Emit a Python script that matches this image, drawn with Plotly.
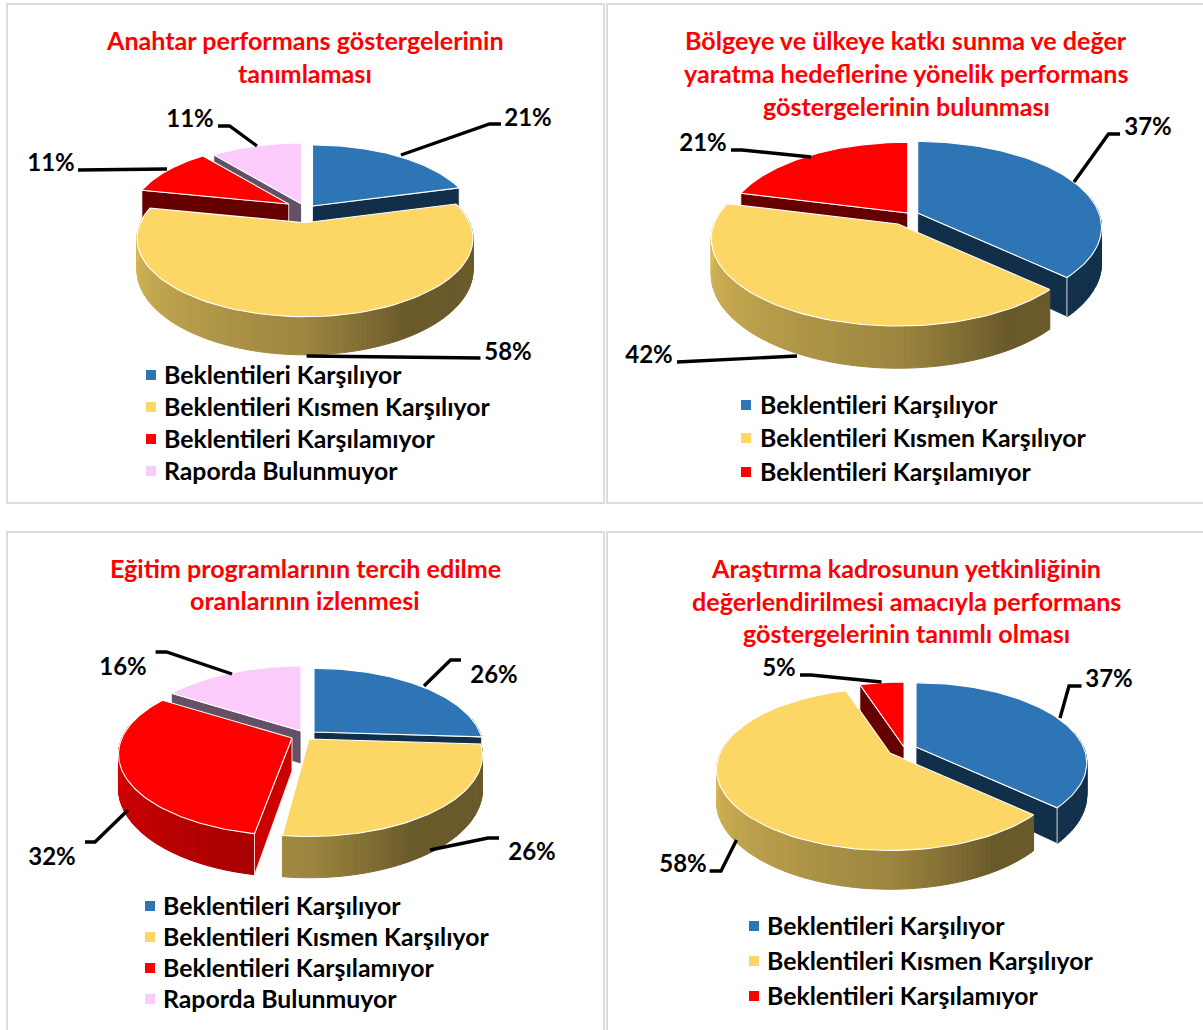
import math
import numpy as np
import plotly.graph_objects as go

# ---------- data ----------
cat_meets = "Beklentileri Karşılıyor"
cat_partly = "Beklentileri Kısmen Karşılıyor"
cat_fails = "Beklentileri Karşılamıyor"
cat_absent = "Raporda Bulunmuyor"

chart1_title = ["Anahtar performans göstergelerinin", "tanımlaması"]
chart1_cats = [cat_meets, cat_partly, cat_fails, cat_absent]
chart1_vals = [21, 58, 11, 11]

chart2_title = ["Bölgeye ve ülkeye katkı sunma ve değer",
                "yaratma hedeflerine yönelik performans",
                "göstergelerinin bulunması"]
chart2_cats = [cat_meets, cat_partly, cat_fails]
chart2_vals = [37, 42, 21]

chart3_title = ["Eğitim programlarının tercih edilme", "oranlarının izlenmesi"]
chart3_cats = [cat_meets, cat_partly, cat_fails, cat_absent]
chart3_vals = [26, 26, 32, 16]

chart4_title = ["Araştırma kadrosunun yetkinliğinin",
                "değerlendirilmesi amacıyla performans",
                "göstergelerinin tanımlı olması"]
chart4_cats = [cat_meets, cat_partly, cat_fails]
chart4_vals = [37, 58, 5]

# ---------- style / layout ----------
COLORS = {cat_meets: (46, 117, 182), cat_partly: (252, 215, 102),
          cat_fails: (255, 0, 0), cat_absent: (251, 203, 252)}
FONT = "Lato"
TITLE_SIZE = 25.1
LEGEND_SIZE = 24.8
LABEL_SIZE = 24
TITLE_RED = "#ff0000"
BORDER = "#dcdcdc"

PANELS = [(7, 4, 604, 503), (607, 4, 1206, 503), (7, 532, 604, 1034), (607, 532, 1206, 1034)]

CONFIG = [
    dict(title=chart1_title, cats=chart1_cats, vals=chart1_vals, tx=305, ty=[40, 73],
         R=164.6, H=75.2, k=0.2, D=30.5,
         apex=[(312.5, 206), (305, 222.7), (288.7, 204), (301.5, 204)],
         scale=[0.97, 1, 0.945, 0.97], start_shift=[0, 0, 0, 0],
         order=[3, 0, 2, 1],
         legend=dict(mx=151, tx=162, ys=[374, 406, 438, 470]),
         labels=[(528, 119.5), (508, 353.5), (51, 164.5), (190, 120.5)],
         leaders=[[(401, 155), (489.5, 124), (501, 124)],
                  [(306.6, 356), (480.5, 358)],
                  [(167, 169), (78, 170)],
                  [(257, 146), (229.6, 126), (218, 126)]]),
    dict(title=chart2_title, cats=chart2_cats, vals=chart2_vals, tx=906, ty=[40, 73, 106],
         R=184, H=84.7, k=0.17, D=35,
         apex=[(917.7, 213), (898, 224), (907.7, 213)],
         scale=[0.985, 1, 0.975], start_shift=[0, 0, 0],
         order=[2, 0, 1],
         legend=dict(mx=746, tx=758, ys=[404, 437, 471]),
         labels=[(1148, 128.5), (649, 356.5), (703, 144.5)],
         leaders=[[(1074, 182), (1108.5, 134), (1120, 134)],
                  [(797, 356), (677, 362)],
                  [(811, 157), (742, 150), (731, 150)]]),
    dict(title=chart3_title, cats=chart3_cats, vals=chart3_vals, tx=305, ty=[568, 600],
         R=170, H=78, k=0.2, D=33,
         apex=[(314, 732), (309, 739), (292, 738), (301, 731)],
         scale=[0.975, 1, 1, 1], start_shift=[0, 0, 3, 0],
         order=[3, 0, 2, 1],
         legend=dict(mx=150, tx=161, ys=[905, 936, 967, 998]),
         labels=[(494, 676.5), (532, 853.5), (52, 858.5), (123, 668.5)],
         leaders=[[(424, 686), (450.6, 660), (461, 660)],
                  [(430, 850), (488, 838), (499, 838)],
                  [(128, 810), (95, 842), (85, 842)],
                  [(232, 674), (166.5, 652), (155.6, 652)]]),
    dict(title=chart4_title, cats=chart4_cats, vals=chart4_vals, tx=906, ty=[568, 601, 633],
         R=170, H=78, k=0.2, D=31,
         apex=[(916, 747), (890, 753), (904, 747)],
         scale=[0.985, 1, 1], start_shift=[0, 0, 0],
         order=[2, 0, 1],
         legend=dict(mx=754, tx=765, ys=[925, 960, 995]),
         labels=[(1109, 680.5), (683, 865.5), (779, 669.5)],
         leaders=[[(1060, 718), (1069, 686), (1081.5, 686)],
                  [(736.5, 840), (721, 871), (709.6, 871)],
                  [(881.5, 682), (811, 675), (800, 675)]]),
]


def rgb(c, f=1.0):
    return "rgb(%d,%d,%d)" % tuple(round(x * f) for x in c)


def project(a, r, theta, cfg, depth=0.0):
    """Perspective projection of a ground-plane polar point to page pixels."""
    u, v = r * math.sin(theta), r * math.cos(theta)
    w = 1 + cfg["k"] * v
    return a[0] + cfg["R"] * u / w, a[1] - cfg["H"] * v / w + depth * cfg["D"] / w


def outer_shade(deg):
    d = deg % 360
    return float(np.interp(d, [0, 90, 150, 180, 270, 360], [.42, .42, .42, .62, .87, .87]))


def poly(fig, pts, fill, line=None, width=1.0):
    xs = [p[0] for p in pts] + [pts[0][0]]
    ys = [p[1] for p in pts] + [pts[0][1]]
    fig.add_trace(go.Scatter(x=xs, y=ys, mode="lines", fill="toself", fillcolor=fill,
                             line=dict(color=line or fill, width=width),
                             hoverinfo="skip", showlegend=False))


def draw_slice(fig, cfg, idx, t0, t1):
    a = cfg["apex"][idx]
    s = cfg["scale"][idx]
    base = COLORS[cfg["cats"][idx]]
    # outer wall, in thin shaded bands (only the part that faces the viewer)
    n = max(2, int(math.degrees(t1 - t0) / 1.5))
    edges = np.linspace(t0, t1, n + 1)
    for e0, e1 in zip(edges[:-1], edges[1:]):
        mid = (e0 + e1) / 2
        if math.cos(mid) > 0.2:
            continue
        poly(fig, [project(a, s, e0, cfg), project(a, s, e1, cfg),
                   project(a, s, e1, cfg, 1), project(a, s, e0, cfg, 1)],
             rgb(base, outer_shade(math.degrees(mid))))
    # radial walls that face the viewer
    for t, nrm in ((t0, t0 - math.pi / 2), (t1, t1 + math.pi / 2)):
        if math.cos(nrm) > 0:
            continue
        nd = math.degrees(nrm) % 360
        shade = 0.8 if 60 < nd < 120 else 0.4
        poly(fig, [project(a, 0, t, cfg), project(a, s, t, cfg),
                   project(a, s, t, cfg, 1), project(a, 0, t, cfg, 1)],
             rgb(base, shade), line="#ffffff", width=0.8)
    # top face
    arc = [project(a, s, t, cfg) for t in np.linspace(t0, t1, 90)]
    poly(fig, [project(a, 0, t0, cfg)] + arc, rgb(base), line="#ffffff", width=1.1)


fig = go.Figure()

for x0, y0, x1, y1 in PANELS:
    fig.add_shape(type="rect", x0=x0, y0=y0, x1=x1, y1=y1, xref="x", yref="y",
                  line=dict(color=BORDER, width=2), fillcolor="rgba(0,0,0,0)", layer="below")

for cfg in CONFIG:
    vals = cfg["vals"]
    total = sum(vals)
    cum = np.cumsum([0] + vals) / total * 2 * math.pi
    for i in cfg["order"]:
        draw_slice(fig, cfg, i, cum[i] + math.radians(cfg["start_shift"][i]), cum[i + 1])
    # leader lines
    for pts in cfg["leaders"]:
        fig.add_trace(go.Scatter(x=[p[0] for p in pts], y=[p[1] for p in pts], mode="lines",
                                 line=dict(color="#000000", width=3.4), hoverinfo="skip",
                                 showlegend=False))
    # value labels
    fig.add_trace(go.Scatter(x=[p[0] for p in cfg["labels"]], y=[p[1] for p in cfg["labels"]],
                             mode="text", text=["<b>%d%%</b>" % v for v in vals],
                             textposition="middle center",
                             textfont=dict(family=FONT, size=LABEL_SIZE, color="#000000"),
                             hoverinfo="skip", showlegend=False))
    # legend entries
    lg = cfg["legend"]
    for cat, y in zip(cfg["cats"], lg["ys"]):
        fig.add_trace(go.Scatter(x=[lg["mx"]], y=[y + 1], mode="markers",
                                 marker=dict(symbol="square", size=10, color=rgb(COLORS[cat])),
                                 hoverinfo="skip", showlegend=False))
        fig.add_annotation(x=lg["tx"], y=y, xref="x", yref="y", xanchor="left", yanchor="middle",
                           text="<b>%s</b>" % cat, showarrow=False,
                           font=dict(family=FONT, size=LEGEND_SIZE, color="#000000"))
    # title lines
    for line, y in zip(cfg["title"], cfg["ty"]):
        fig.add_annotation(x=cfg["tx"], y=y, xref="x", yref="y", xanchor="center", yanchor="middle",
                           text="<b>%s</b>" % line, showarrow=False,
                           font=dict(family=FONT, size=TITLE_SIZE, color=TITLE_RED))

fig.update_layout(width=1203, height=1030, margin=dict(l=0, r=0, t=0, b=0),
                  paper_bgcolor="#ffffff", plot_bgcolor="#ffffff", showlegend=False,
                  xaxis=dict(range=[0, 1203], visible=False, fixedrange=True),
                  yaxis=dict(range=[1030, 0], visible=False, fixedrange=True))

fig.write_html("out.html", post_script="document.body.style.margin='0';document.body.style.overflow='hidden';",
               config={"displayModeBar": False})
